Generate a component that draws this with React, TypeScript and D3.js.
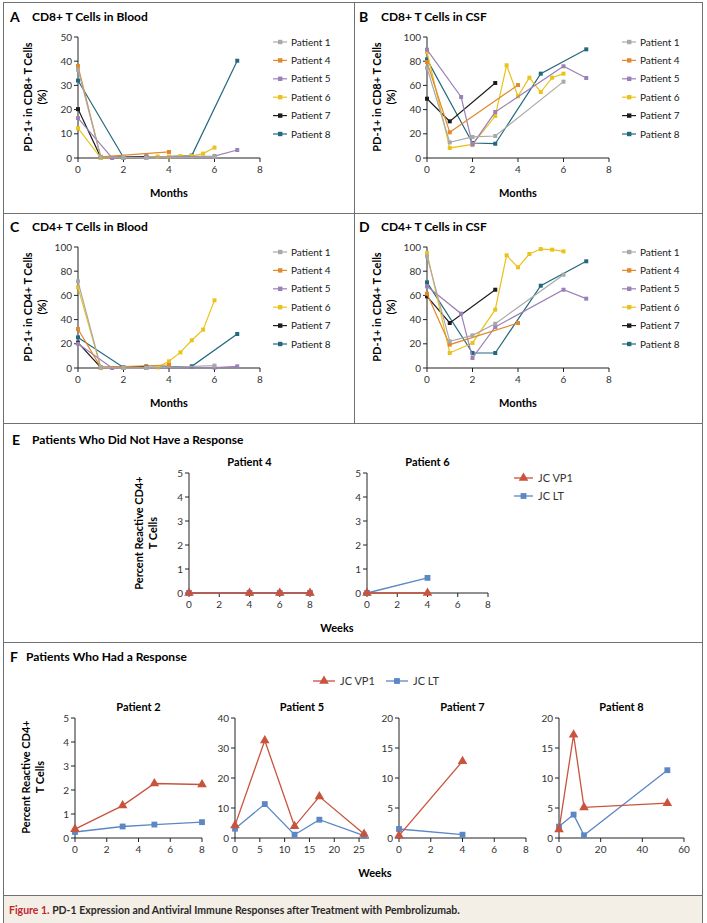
import React, { useEffect, useRef } from 'react';
import * as d3 from 'd3';

// ---- panels A-D: PD-1 expression ----
const patientNames = ['Patient 1', 'Patient 4', 'Patient 5', 'Patient 6', 'Patient 7', 'Patient 8'];
const patientColors = ['#a9a9a9', '#e0892f', '#9c80b8', '#eac21c', '#1c1c1c', '#23687d'];
const patientMonths = [
  [0, 1, 2, 3, 6],
  [0, 1, 4],
  [0, 1.5, 2, 3, 6, 7],
  [0, 1, 2, 3, 3.5, 4, 4.5, 5, 5.5, 6],
  [0, 1, 3],
  [0, 2, 3, 5, 7],
];

const cd8Blood = [
  [36.5, 0.3, 0.3, 0, 0.5],
  [38, 0.5, 2.5],
  [16.5, 0, 0.2, 0.3, 0.8, 3.3],
  [12.3, 0, 0.2, 0.3, 0.6, 0.6, 0.8, 0.8, 1.8, 4.3],
  [20.2, 0.3, 0.6],
  [32, 0.2, 0.3, 1.0, 40.2],
];
const cd8Csf = [
  [74.6, 12.9, 17.4, 18.2, 63.1],
  [79.3, 21.2, 60.3],
  [89.5, 50.4, 11, 38, 75.8, 66.1],
  [87.6, 8.3, 11.3, 34.7, 76.6, 51, 66.4, 54.5, 66.4, 69.7],
  [49, 30.3, 62],
  [81.5, 12.4, 11.8, 69.7, 89.8],
];
const cd4Blood = [
  [71.6, 0.5, 0, 0, 2.0],
  [32.2, 0.5, 2.5],
  [20.1, 0, 0.1, 0, 0.3, 1.4],
  [66.7, 0.5, 0, 0.2, 0.5, 5.5, 12.9, 22.9, 31.7, 55.9],
  [21, 0.5, 1.2],
  [25.3, 0.5, 0.5, 1.4, 28.1],
];
const cd4Csf = [
  [92.3, 22, 27, 36.6, 77.1],
  [61.4, 19.3, 37.2],
  [67.5, 44.9, 8.3, 33.9, 64.7, 57.3],
  [95, 12.4, 20.7, 48.2, 93.1, 83.2, 94.2, 98.3, 97.8, 96.4],
  [59.2, 37.2, 64.7],
  [70.8, 12.4, 12.4, 68, 88.2],
];
const monthTicks = [0, 2, 4, 6, 8];

// ---- panels E-F: JC virus reactive CD4+ T cells ----
const antigenNames = ['JC VP1', 'JC LT'];
const antigenColors = ['#c9533d', '#5b87c5'];

const eTitles = ['Patient 4', 'Patient 6'];
const eWeeks = [[0, 4, 6, 8], [0, 4]];
const eVp1 = [[0, 0, 0, 0], [0, 0]];
const eLt = [[0, 0, 0, 0], [0, 0.63]];

const fTitles = ['Patient 2', 'Patient 5', 'Patient 7', 'Patient 8'];
const fWeeks = [[0, 3, 5, 8], [0, 6, 12, 17, 26], [0, 4], [0, 7, 12, 52]];
const fVp1 = [[0.37, 1.35, 2.27, 2.23], [4.2, 32.5, 3.9, 13.8, 1.3], [0.4, 12.8], [1.4, 17.2, 5.1, 5.8]];
const fLt = [[0.25, 0.48, 0.56, 0.66], [3.1, 11.3, 1.1, 6.1, 0.8], [1.5, 0.55], [1.9, 3.9, 0.45, 11.3]];
const fXMax = [8, 27, 8, 60];
const fXTicks = [[0, 2, 4, 6, 8], [0, 5, 10, 15, 20, 25], [0, 2, 4, 6, 8], [0, 20, 40, 60]];
const fYMax = [5, 40, 20, 20];
const fYTicks = [[0, 1, 2, 3, 4, 5], [0, 10, 20, 30, 40], [0, 5, 10, 15, 20], [0, 5, 10, 15, 20]];

const FONT = 'Lato, "Open Sans", sans-serif';
const W = 707;
const H = 923;

type G = d3.Selection<SVGGElement, unknown, null, undefined>;

function drawAxes(g: G, x: d3.ScaleLinear<number, number>, y: d3.ScaleLinear<number, number>, xt: number[], yt: number[]) {
  const [x0, x1] = x.range();
  const [y0, y1] = y.range();
  g.append('line').attr('x1', x0).attr('x2', x1).attr('y1', y0).attr('y2', y0).attr('stroke', '#222');
  g.append('line').attr('x1', x0).attr('x2', x0).attr('y1', y0).attr('y2', y1).attr('stroke', '#222');
  xt.forEach(t => {
    g.append('line').attr('x1', x(t)).attr('x2', x(t)).attr('y1', y0).attr('y2', y0 + 4).attr('stroke', '#222');
    g.append('text').attr('x', x(t)).attr('y', y0 + 15).attr('text-anchor', 'middle')
      .attr('font-size', 10).attr('fill', '#333').text(t);
  });
  yt.forEach(t => {
    g.append('line').attr('x1', x0 - 4).attr('x2', x0).attr('y1', y(t)).attr('y2', y(t)).attr('stroke', '#222');
    g.append('text').attr('x', x0 - 6).attr('y', y(t) + 3.5).attr('text-anchor', 'end')
      .attr('font-size', 10).attr('fill', '#333').text(t);
  });
}

function drawSeries(g: G, x: d3.ScaleLinear<number, number>, y: d3.ScaleLinear<number, number>,
  xs: number[], ys: number[], color: string, shape: 'square' | 'triangle', size: number, width: number) {
  const pts = xs.map((v, i) => [v, ys[i]] as [number, number]);
  const line = d3.line<[number, number]>().x(d => x(d[0])).y(d => y(d[1]));
  g.append('path').attr('d', line(pts)).attr('fill', 'none').attr('stroke', color).attr('stroke-width', width);
  const sym = d3.symbol().type(shape === 'square' ? d3.symbolSquare : d3.symbolTriangle).size(size);
  g.selectAll(null).data(pts).join('path')
    .attr('d', sym() as string)
    .attr('transform', d => `translate(${x(d[0])},${y(d[1])})`)
    .attr('fill', color);
}

function drawPdPanel(svg: d3.Selection<SVGSVGElement, unknown, null, undefined>, ox: number, oy: number,
  letter: string, title: string, yLabel: string, values: number[][], yMax: number, yStep: number) {
  const g = svg.append('g').attr('transform', `translate(${ox},${oy})`);
  g.append('text').attr('x', 10).attr('y', 22).attr('font-size', 14).attr('font-weight', 700).text(letter);
  g.append('text').attr('x', 32).attr('y', 21).attr('font-size', 12).attr('font-weight', 700).text(title);

  const x = d3.scaleLinear().domain([0, 8]).range([78, 260]);
  const y = d3.scaleLinear().domain([0, yMax]).range([158, 37]);
  drawAxes(g, x, y, monthTicks, d3.range(0, yMax + 1, yStep));

  g.append('text').attr('x', 169).attr('y', 197).attr('text-anchor', 'middle')
    .attr('font-size', 11).attr('font-weight', 700).text('Months');
  const yl = g.append('text').attr('transform', 'translate(32,97) rotate(-90)').attr('text-anchor', 'middle')
    .attr('font-size', 11).attr('font-weight', 700);
  yl.append('tspan').attr('x', 0).attr('dy', 0).text(yLabel);
  yl.append('tspan').attr('x', 0).attr('dy', 14).text('(%)');

  for (let i = values.length - 1; i >= 0; i--) {
    drawSeries(g, x, y, patientMonths[i], values[i], patientColors[i], 'square', 16, 1.2);
  }

  patientNames.forEach((name, i) => {
    const ly = 42 + i * 18.4;
    g.append('line').attr('x1', 273).attr('x2', 287).attr('y1', ly).attr('y2', ly)
      .attr('stroke', patientColors[i]).attr('stroke-width', 1.2);
    g.append('rect').attr('x', 278).attr('y', ly - 2.2).attr('width', 4.4).attr('height', 4.4).attr('fill', patientColors[i]);
    g.append('text').attr('x', 291).attr('y', ly + 3.5).attr('font-size', 10).attr('fill', '#222').text(name);
  });
}

function drawJcPlot(g: G, left: number, width: number, top: number, bottom: number, title: string,
  weeks: number[], vp1: number[], lt: number[], xMax: number, xTicks: number[], yMax: number, yTicks: number[]) {
  const x = d3.scaleLinear().domain([0, xMax]).range([left, left + width]);
  const y = d3.scaleLinear().domain([0, yMax]).range([bottom, top]);
  g.append('text').attr('x', left + width / 2).attr('y', top - 7).attr('text-anchor', 'middle')
    .attr('font-size', 11).attr('font-weight', 700).text(title);
  drawAxes(g, x, y, xTicks, yTicks);
  drawSeries(g, x, y, weeks, lt, antigenColors[1], 'square', 34, 1.3);
  drawSeries(g, x, y, weeks, vp1, antigenColors[0], 'triangle', 40, 1.3);
}

function drawLegendItem(g: G, x1: number, x2: number, ly: number, i: number) {
  g.append('line').attr('x1', x1).attr('x2', x2).attr('y1', ly).attr('y2', ly)
    .attr('stroke', antigenColors[i]).attr('stroke-width', 1.3);
  const sym = d3.symbol().type(i === 0 ? d3.symbolTriangle : d3.symbolSquare).size(i === 0 ? 40 : 34);
  g.append('path').attr('d', sym() as string).attr('transform', `translate(${(x1 + x2) / 2},${ly})`).attr('fill', antigenColors[i]);
  g.append('text').attr('x', x2 + 5).attr('y', ly + 4).attr('font-size', 11).attr('fill', '#333').text(antigenNames[i]);
}

export default function App() {
  const svgRef = useRef<SVGSVGElement>(null);

  useEffect(() => {
    if (!svgRef.current) return;
    const svg = d3.select(svgRef.current);
    svg.selectAll('*').remove();
    svg.attr('font-family', FONT);

    svg.append('rect').attr('width', W).attr('height', H).attr('fill', '#fff');
    // caption bar
    svg.append('rect').attr('x', 3).attr('y', 895).attr('width', 700).attr('height', 28).attr('fill', '#f3eee6');

    drawPdPanel(svg, 0, 0, 'A', 'CD8+ T Cells in Blood', 'PD-1+ in CD8+ T Cells', cd8Blood, 50, 10);
    drawPdPanel(svg, 349, 0, 'B', 'CD8+ T Cells in CSF', 'PD-1+ in CD8+ T Cells', cd8Csf, 100, 20);
    drawPdPanel(svg, 0, 210, 'C', 'CD4+ T Cells in Blood', 'PD-1+ in CD4+ T Cells', cd4Blood, 100, 20);
    drawPdPanel(svg, 349, 210, 'D', 'CD4+ T Cells in CSF', 'PD-1+ in CD4+ T Cells', cd4Csf, 100, 20);

    // ---- E ----
    const ge = svg.append('g');
    ge.append('text').attr('x', 12).attr('y', 445).attr('font-size', 14).attr('font-weight', 700).text('E');
    ge.append('text').attr('x', 32).attr('y', 444).attr('font-size', 12).attr('font-weight', 700)
      .text('Patients Who Did Not Have a Response');
    const eLefts = [189, 367];
    eTitles.forEach((t, i) => {
      drawJcPlot(ge, eLefts[i], 121, 473, 593, t, eWeeks[i], eVp1[i], eLt[i], 8, [0, 2, 4, 6, 8], 5, [0, 1, 2, 3, 4, 5]);
    });
    const eyl = ge.append('text').attr('transform', 'translate(143,533) rotate(-90)').attr('text-anchor', 'middle')
      .attr('font-size', 11).attr('font-weight', 700);
    eyl.append('tspan').attr('x', 0).attr('dy', 0).text('Percent Reactive CD4+');
    eyl.append('tspan').attr('x', 0).attr('dy', 14).text('T Cells');
    ge.append('text').attr('x', 337).attr('y', 632).attr('text-anchor', 'middle')
      .attr('font-size', 11).attr('font-weight', 700).text('Weeks');
    drawLegendItem(ge, 514, 533, 478, 0);
    drawLegendItem(ge, 514, 533, 496, 1);

    // ---- F ----
    const gf = svg.append('g');
    gf.append('text').attr('x', 10).attr('y', 662).attr('font-size', 14).attr('font-weight', 700).text('F');
    gf.append('text').attr('x', 26).attr('y', 661).attr('font-size', 12).attr('font-weight', 700)
      .text('Patients Who Had a Response');
    drawLegendItem(gf, 313, 335, 681, 0);
    drawLegendItem(gf, 386, 408, 681, 1);
    const fLefts = [75, 235, 399, 559];
    const fWidths = [127, 134, 127, 125];
    fTitles.forEach((t, i) => {
      drawJcPlot(gf, fLefts[i], fWidths[i], 718, 838, t, fWeeks[i], fVp1[i], fLt[i], fXMax[i], fXTicks[i], fYMax[i], fYTicks[i]);
    });
    const fyl = gf.append('text').attr('transform', 'translate(30,777) rotate(-90)').attr('text-anchor', 'middle')
      .attr('font-size', 11).attr('font-weight', 700);
    fyl.append('tspan').attr('x', 0).attr('dy', 0).text('Percent Reactive CD4+');
    fyl.append('tspan').attr('x', 0).attr('dy', 14).text('T Cells');
    gf.append('text').attr('x', 375).attr('y', 877).attr('text-anchor', 'middle')
      .attr('font-size', 11).attr('font-weight', 700).text('Weeks');

    // frame and dividers
    const fr = svg.append('g').attr('stroke', '#707070').attr('stroke-width', 1).attr('fill', 'none');
    fr.append('rect').attr('x', 3.5).attr('y', 2.5).attr('width', 699).attr('height', 925);
    fr.append('line').attr('x1', 354.5).attr('x2', 354.5).attr('y1', 2.5).attr('y2', 423.5);
    [213.5, 423.5, 642.5, 895.5].forEach(yy => {
      fr.append('line').attr('x1', 3.5).attr('x2', 702.5).attr('y1', yy).attr('y2', yy);
    });

    const cap = svg.append('text').attr('x', 9).attr('y', 914).attr('font-size', 10.5).attr('font-weight', 700);
    cap.append('tspan').attr('fill', '#c1272d').text('Figure 1. ');
    cap.append('tspan').attr('fill', '#2a2a2a')
      .text('PD-1 Expression and Antiviral Immune Responses after Treatment with Pembrolizumab.');
  }, []);

  return (
    <div style={{ position: 'absolute', left: 0, top: 0 }}>
      <svg ref={svgRef} width={W} height={H} style={{ display: 'block' }} />
    </div>
  );
}
